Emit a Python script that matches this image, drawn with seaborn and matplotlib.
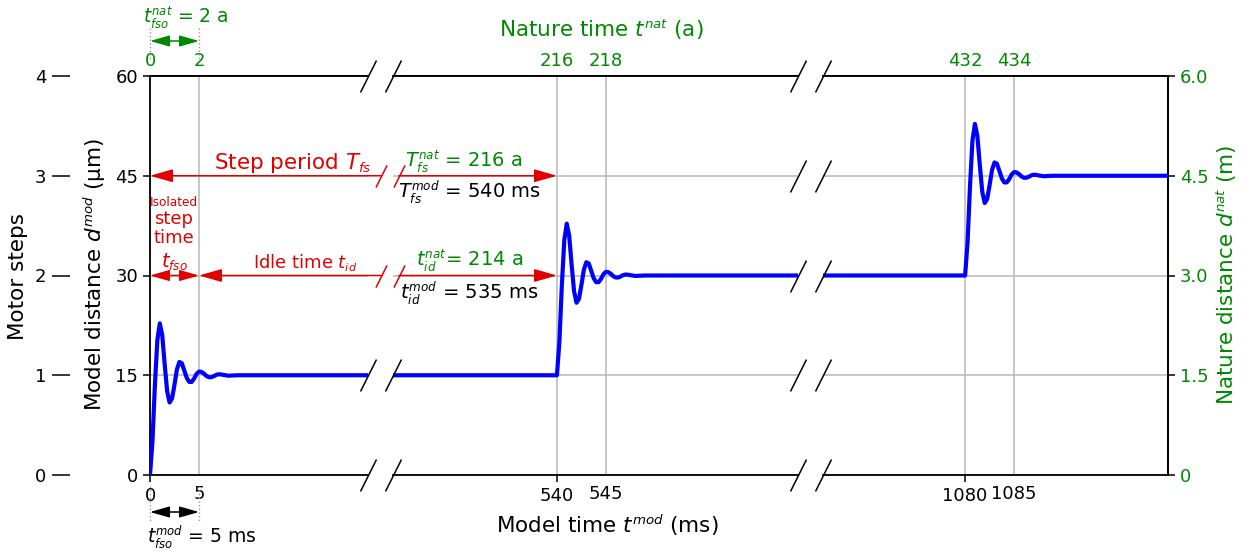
import numpy as np
import pandas as pd
import matplotlib
matplotlib.use("Agg")
import matplotlib.pyplot as plt
import seaborn as sns
from matplotlib.patches import FancyArrowPatch
from matplotlib.lines import Line2D

# ---------------------------------------------------------------- data
# Response of the stage to one motor step (µm above the previous level), time in ms
resp_t_ms = [0, 0.25, 0.5, 0.75, 1.0, 1.25, 1.5, 1.75, 2.0, 2.25, 2.5, 2.75,
             3.0, 3.25, 3.5, 3.75, 4.0, 4.25, 4.5, 4.75, 5.0, 5.25, 5.5, 5.75,
             6.0, 6.25, 6.5, 6.75, 7.0, 7.25, 7.5, 8.0, 8.5, 9.0, 10.0]
resp_um = [0, 5.0, 13.5, 20.3, 22.8, 21.0, 16.6, 12.6, 10.9, 11.5, 13.6, 15.9,
           17.0, 16.8, 15.7, 14.6, 14.0, 14.0, 14.5, 15.2, 15.55, 15.5, 15.25, 14.9,
           14.7, 14.7, 14.85, 15.05, 15.15, 15.12, 15.05, 14.93, 14.97, 15.0, 15.0]
step_starts_ms = [0, 540, 1080]
step_size_um = 15
hold_end_ms = 1110

# axis ticks
dist_ticks_um = [0, 15, 30, 45, 60]
motor_steps = [0, 1, 2, 3, 4]
nat_dist_ticks_m = [0, 1.5, 3.0, 4.5, 6.0]
nat_dist_labels = ["0", "1.5", "3.0", "4.5", "6.0"]
mod_major_ms = [[0], [540], [1080]]
mod_minor_ms = [[5], [545], [1085]]
nat_time_labels = [["0", "2"], ["216", "218"], ["432", "434"]]

# ---------------------------------------------------------------- series
t_all, d_all = [], []
for k, t0 in enumerate(step_starts_ms):
    t_all += [t0 + t for t in resp_t_ms]
    d_all += [k * step_size_um + d for d in resp_um]
t_all.append(hold_end_ms)
d_all.append(len(step_starts_ms) * step_size_um)
df = pd.DataFrame({"t": t_all, "d": d_all})

# ---------------------------------------------------------------- style
sns.set_style("white")
plt.rcParams["font.family"] = ["DejaVu Sans"]
plt.rcParams["mathtext.fontset"] = "dejavusans"
for key in ("text.color", "axes.labelcolor", "xtick.color", "ytick.color",
            "axes.edgecolor"):
    plt.rcParams[key] = "black"

# slightly smaller sub/superscripts in the math labels
try:
    import matplotlib._mathtext as _mt
    _mt.SHRINK_FACTOR = 0.62
except Exception:
    pass

GREEN = "#008800"
RED = "#e00000"
GRID = "#b8b8b8"
W, H = 1245, 551

fig = plt.figure(figsize=(W / 100, H / 100), dpi=100)


def fx(px):
    return px / W


def fy(py):
    return 1 - py / H


panel_px = [(150, 368), (393, 798), (823, 1168)]
xlims = [(0, 22.24), (523.27, 564.6), (1065.5, 1100.7)]
top_px, bot_px = 76, 475

axes = []
for i, ((x0, x1), xl) in enumerate(zip(panel_px, xlims)):
    ax = fig.add_axes([fx(x0), fy(bot_px), (x1 - x0) / W, (bot_px - top_px) / H])
    ax.set_axisbelow(True)
    sns.lineplot(data=df, x="t", y="d", ax=ax, color="blue", lw=3,
                 sort=False, estimator=None, zorder=3)
    ax.set_xlim(*xl)
    ax.set_ylim(0, 60)
    ax.set_xlabel("")
    ax.set_ylabel("")
    ax.set_yticks(dist_ticks_um)
    ax.set_xticks(mod_major_ms[i], labels=[str(v) for v in mod_major_ms[i]])
    ax.set_xticks(mod_minor_ms[i], labels=[str(v) for v in mod_minor_ms[i]], minor=True)
    ax.tick_params(axis="x", which="major", length=5, width=1.1, labelsize=13, pad=3.5)
    ax.tick_params(axis="x", which="minor", length=0, labelsize=13, pad=7.1)
    ax.grid(True, axis="x", which="both", color=GRID, lw=1.1)
    ax.grid(True, axis="y", which="major", color=GRID, lw=1.1)
    for s in ax.spines.values():
        s.set_color("black")
        s.set_linewidth(1.3)
    if i == 0:
        ax.tick_params(axis="y", length=5, width=1.1, labelsize=13, left=True)
    else:
        ax.tick_params(axis="y", left=False, labelleft=False)
        ax.spines["left"].set_visible(False)
    if i < 2:
        ax.spines["right"].set_visible(False)
    ax.tick_params(axis="x", bottom=True, which="both")

    # nature time on top
    top = ax.secondary_xaxis("top")
    top.set_xticks(mod_major_ms[i] + mod_minor_ms[i], labels=nat_time_labels[i])
    top.tick_params(axis="x", length=0, labelsize=13, labelcolor=GREEN, pad=4)
    top.spines["top"].set_linewidth(1.3)
    axes.append(ax)

axL, axM, axR = axes

# motor steps scale, set out to the left
motor = axL.secondary_yaxis((70 - 150) / (panel_px[0][1] - panel_px[0][0]),
                            functions=(lambda d: d / step_size_um,
                                       lambda s: s * step_size_um))
motor.set_yticks(motor_steps)
motor.tick_params(axis="y", length=13, width=1.1, labelsize=13, pad=4)
motor.spines["left"].set_visible(False)

# nature distance on the right
nat = axR.secondary_yaxis("right", functions=(lambda d: d / 10, lambda m: m * 10))
nat.set_yticks(nat_dist_ticks_m, labels=nat_dist_labels)
nat.tick_params(axis="y", length=5, width=1.1, labelsize=13, labelcolor=GREEN)
nat.spines["right"].set_linewidth(1.3)


# ---------------------------------------------------------------- breaks
def slashes(ax, xa, levels, color="black", ms=23):
    ax.plot([xa] * len(levels), levels, transform=ax.get_yaxis_transform(),
            ls="none", marker=[(-0.5, -1), (0.5, 1)], ms=ms, mew=1.1,
            color=color, clip_on=False, zorder=5)


slashes(axL, 1, [0, 15, 60])
slashes(axM, 0, [0, 15, 60])
slashes(axM, 1, dist_ticks_um)
slashes(axR, 0, dist_ticks_um)


# ---------------------------------------------------------------- annotations
inv = fig.transFigure.inverted()


def to_fig(ax, x, y):
    return inv.transform(ax.transData.transform((x, y)))


def arrow(p_from, p_to, color, style, ms=20, hl=0.7, hw=0.2):
    fig.add_artist(FancyArrowPatch(
        p_from, p_to, transform=fig.transFigure,
        arrowstyle=f"{style},head_length={hl},head_width={hw}",
        mutation_scale=ms, color=color, lw=1.1, shrinkA=0, shrinkB=0, zorder=6))


def fig_slash(x, y, color):
    fig.add_artist(Line2D([x], [y], transform=fig.transFigure, ls="none",
                          marker=[(-0.5, -1), (0.5, 1)], ms=16, mew=1.1,
                          color=color, zorder=6))


x0 = to_fig(axL, 0, 0)[0]
x5 = to_fig(axL, 5, 0)[0]
x540 = to_fig(axM, 540, 0)[0]
y45 = to_fig(axL, 0, 45)[1]
y30 = to_fig(axL, 0, 30)[1]
brk_a, brk_b = fx(381), fx(399)

# step period
arrow((brk_a, y45), (x0, y45), RED, "-|>")
arrow((brk_b, y45), (x540, y45), RED, "-|>")
fig_slash(brk_a, y45, RED)
fig_slash(brk_b, y45, RED)

# isolated step time and idle time
arrow((x0, y30), (x5, y30), RED, "<|-|>", ms=17)
arrow((brk_a, y30), (x5, y30), RED, "-|>")
arrow((brk_b, y30), (x540, y30), RED, "-|>")
fig_slash(brk_a, y30, RED)
fig_slash(brk_b, y30, RED)

# isolated step time in nature and model units
for xx in (x0, x5):
    fig.add_artist(Line2D([xx, xx], [fy(28), fy(60)], transform=fig.transFigure,
                          ls=":", lw=1.0, color="#999999"))
    fig.add_artist(Line2D([xx, xx], [fy(486), fy(522)], transform=fig.transFigure,
                          ls=":", lw=1.0, color="#999999"))
arrow((x0, fy(41)), (x5, fy(41)), GREEN, "<|-|>", ms=17)
arrow((x0, fy(512)), (x5, fy(512)), "black", "<|-|>", ms=17)


def ftext(px, py, s, color="black", size=13.3, **kw):
    fig.text(fx(px), fy(py), s, color=color, fontsize=size,
             ha=kw.pop("ha", "center"), va=kw.pop("va", "center"), **kw)


ftext(186, 18, r"$t_{fso}^{nat}$ = 2 a", GREEN, 13.5)
ftext(202, 537, r"$t_{fso}^{mod}$ = 5 ms", "black", 13.5)

ftext(293, 163, r"Step period $T_{fs}$", RED, 15.5)
ftext(464, 162, r"$T_{fs}^{nat}$ = 216 a", GREEN, 14)
ftext(469, 192, r"$T_{fs}^{mod}$ = 540 ms", "black", 14)

ftext(174, 202, "Isolated", RED, 8.7)
ftext(174, 219, "step", RED, 13)
ftext(174, 238, "time", RED, 13)
ftext(174, 262, r"$t_{fso}$", RED, 14)

ftext(305, 263, r"Idle time $t_{id}$", RED, 13)
ftext(470, 261, r"$t_{id}^{nat}$= 214 a", GREEN, 14)
ftext(469, 293, r"$t_{id}^{mod}$ = 535 ms", "black", 14)

# axis titles
ftext(18, 276, "Motor steps", "black", 15.5, rotation=90)
ftext(95, 275, r"Model distance $d^{mod}$ (µm)", "black", 15.5, rotation=90)
ftext(1227, 275, r"Nature distance $d^{nat}$ (m)", GREEN, 15.5, rotation=90)
ftext(607, 525, r"Model time $t^{mod}$ (ms)", "black", 15.5)
ftext(601, 30, r"Nature time $t^{nat}$ (a)", GREEN, 15.5)

fig.savefig("out.png", dpi=100)
